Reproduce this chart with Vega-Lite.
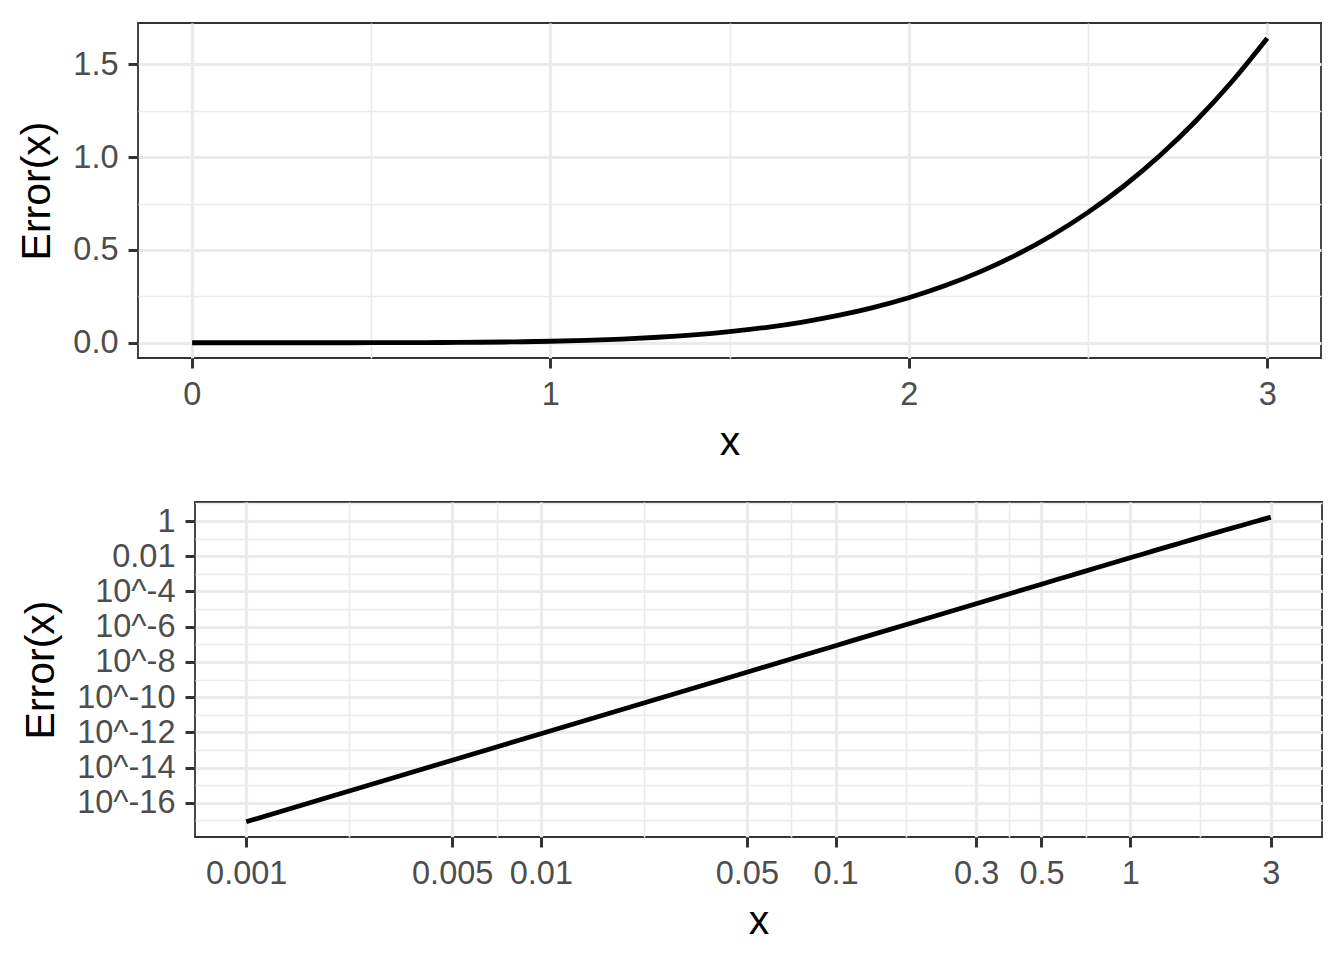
{
  "$schema": "https://vega.github.io/schema/vega-lite/v6.json",
  "background": "white",
  "padding": {"left": 15, "top": 22, "right": 5, "bottom": 5},
  "spacing": 37,
  "data": {"values": [
    {"x": 0.001, "err": 8.3333e-18},
    {"x": 0.002, "err": 2.6667e-16},
    {"x": 0.005, "err": 2.6042e-14},
    {"x": 0.01, "err": 8.3333e-13},
    {"x": 0.02, "err": 2.6667e-11},
    {"x": 0.05, "err": 2.6040e-9},
    {"x": 0.1, "err": 8.3313e-8},
    {"x": 0.2, "err": 2.6641e-6},
    {"x": 0.3, "err": 2.0207e-5},
    {"x": 0.4, "err": 8.5009e-5},
    {"x": 0.5, "err": 2.58872e-4},
    {"x": 0.6, "err": 6.42474e-4},
    {"x": 0.7, "err": 1.38435e-3},
    {"x": 0.8, "err": 2.68943e-3},
    {"x": 0.9, "err": 4.82691e-3},
    {"x": 1.0, "err": 0.0081377},
    {"x": 1.1, "err": 0.013040},
    {"x": 1.2, "err": 0.020039},
    {"x": 1.3, "err": 0.029725},
    {"x": 1.4, "err": 0.042783},
    {"x": 1.5, "err": 0.059995},
    {"x": 1.6, "err": 0.082241},
    {"x": 1.7, "err": 0.110498},
    {"x": 1.8, "err": 0.145848},
    {"x": 1.9, "err": 0.189467},
    {"x": 2.0, "err": 0.242631},
    {"x": 2.1, "err": 0.306709},
    {"x": 2.2, "err": 0.383163},
    {"x": 2.3, "err": 0.473538},
    {"x": 2.4, "err": 0.579463},
    {"x": 2.5, "err": 0.702639},
    {"x": 2.6, "err": 0.844834},
    {"x": 2.7, "err": 1.007880},
    {"x": 2.8, "err": 1.193655},
    {"x": 2.9, "err": 1.404082},
    {"x": 3.0, "err": 1.641120}
  ]},
  "config": {
    "font": "Liberation Sans",
    "view": {"stroke": "#333333", "strokeWidth": 1.8},
    "axis": {
      "labelFont": "Liberation Sans",
      "labelFontSize": 32.5,
      "labelColor": "#4D4D4D",
      "labelPadding": 10,
      "labelOverlap": false,
      "labelFlush": false,
      "titleFont": "Liberation Sans",
      "titleFontSize": 41,
      "titleFontWeight": "normal",
      "titleColor": "#000000",
      "titlePadding": 12,
      "tickSize": 10,
      "tickWidth": 3,
      "tickColor": "#333333",
      "domain": false,
      "gridColor": "#EBEBEB"
    },
    "axisY": {"titlePadding": 14}
  },
  "vconcat": [
    {
      "width": 1183,
      "height": 335,
      "resolve": {"axis": {"x": "independent", "y": "independent"}},
      "layer": [
        {
          "mark": {"type": "line", "strokeOpacity": 0},
          "encoding": {
            "x": {"field": "x", "type": "quantitative",
              "scale": {"domain": [-0.15, 3.15], "nice": false, "zero": false},
              "axis": {"orient": "bottom", "values": [0.5, 1.5, 2.5], "grid": true, "gridWidth": 1.6, "labels": false, "ticks": false, "title": null}},
            "y": {"field": "err", "type": "quantitative",
              "scale": {"domain": [-0.08206, 1.72318], "nice": false, "zero": false},
              "axis": {"orient": "left", "values": [0.25, 0.75, 1.25], "grid": true, "gridWidth": 1.6, "labels": false, "ticks": false, "title": null}}
          }
        },
        {
          "mark": {"type": "line", "color": "#000000", "strokeWidth": 4.8, "interpolate": "monotone"},
          "encoding": {
            "x": {"field": "x", "type": "quantitative",
              "scale": {"domain": [-0.15, 3.15], "nice": false, "zero": false},
              "axis": {"orient": "bottom", "values": [0, 1, 2, 3], "grid": true, "gridWidth": 3.2, "format": "d", "title": "x"}},
            "y": {"field": "err", "type": "quantitative",
              "scale": {"domain": [-0.08206, 1.72318], "nice": false, "zero": false},
              "axis": {"orient": "left", "values": [0, 0.5, 1, 1.5], "grid": true, "gridWidth": 3.2, "format": ".1f", "title": "Error(x)"}}
          }
        }
      ]
    },
    {
      "spacing": -120,
      "hconcat": [
        {
          "width": 1,
          "height": 1,
          "data": {"values": []},
          "view": {"stroke": null},
          "mark": {"type": "point", "opacity": 0}
        },
        {
          "width": 1127,
          "height": 335,
          "resolve": {"axis": {"x": "independent", "y": "independent"}},
          "layer": [
            {
              "mark": {"type": "line", "strokeOpacity": 0},
              "encoding": {
                "x": {"field": "x", "type": "quantitative",
                  "scale": {"type": "log", "domain": [0.00067, 4.477], "nice": false},
                  "axis": {"orient": "bottom", "values": [0.002236, 0.007071, 0.02236, 0.07071, 0.1732, 0.3873, 0.7071, 1.7321], "grid": true, "gridWidth": 1.6, "labels": false, "ticks": false, "title": null}},
                "y": {"field": "err", "type": "quantitative",
                  "scale": {"type": "log", "domain": [1.138e-18, 12.02], "nice": false},
                  "axis": {"orient": "left", "values": [10, 0.1, 0.001, 1e-5, 1e-7, 1e-9, 1e-11, 1e-13, 1e-15, 1e-17], "grid": true, "gridWidth": 1.6, "labels": false, "ticks": false, "title": null}}
              }
            },
            {
              "mark": {"type": "line", "color": "#000000", "strokeWidth": 4.8, "interpolate": "monotone"},
              "encoding": {
                "x": {"field": "x", "type": "quantitative",
                  "scale": {"type": "log", "domain": [0.00067, 4.477], "nice": false},
                  "axis": {"orient": "bottom", "values": [0.001, 0.005, 0.01, 0.05, 0.1, 0.3, 0.5, 1, 3], "grid": true, "gridWidth": 3.2, "format": "~g", "title": "x"}},
                "y": {"field": "err", "type": "quantitative",
                  "scale": {"type": "log", "domain": [1.138e-18, 12.02], "nice": false},
                  "axis": {"orient": "left", "values": [1, 0.01, 1e-4, 1e-6, 1e-8, 1e-10, 1e-12, 1e-14, 1e-16], "grid": true, "gridWidth": 3.2,
                    "labelExpr": "datum.value > 0.5 ? '1' : datum.value > 0.005 ? '0.01' : '10^' + round(log(datum.value) / LN10)",
                    "title": "Error(x)"}}
              }
            }
          ]
        }
      ]
    }
  ]
}
